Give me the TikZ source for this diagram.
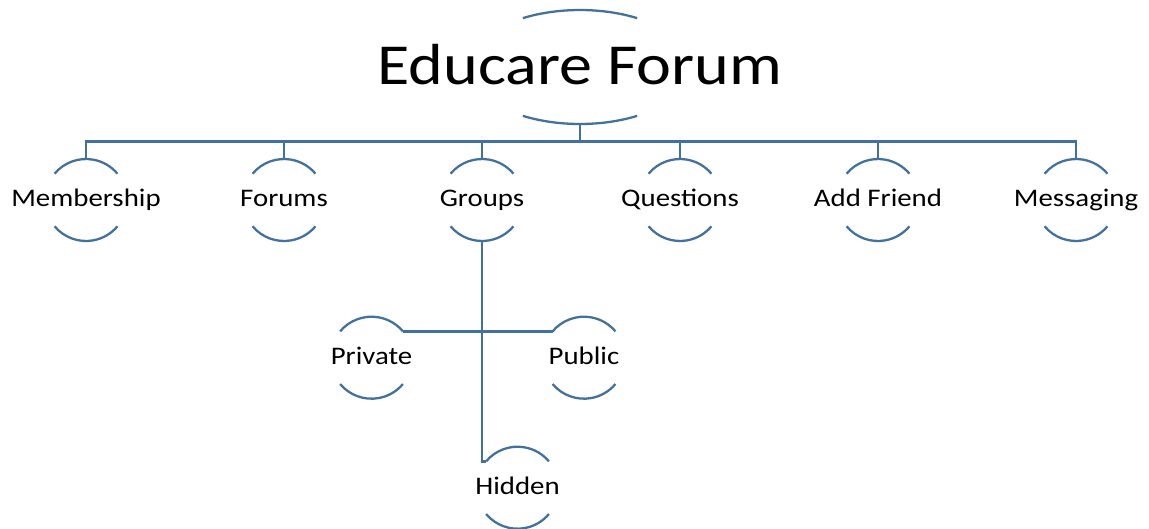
\documentclass[tikz,border=0pt]{standalone}
\usepackage{fontspec}
\setmainfont[FakeStretch=1.14]{Carlito}
\definecolor{linkblue}{RGB}{65,113,156}
\tikzset{
  ring/.style={circle, minimum size=1.64cm, inner sep=0pt, outer sep=0pt},
  tag/.style={anchor=base, inner sep=0pt, font=\fontsize{14.4}{16}\selectfont},
  link/.style={draw=linkblue, line width=1.3pt},
}
\newcommand{\halfarcs}[1]{%
  \draw[link] (#1.140) arc[start angle=140, end angle=40, radius=0.82cm];
  \draw[link] (#1.220) arc[start angle=220, end angle=320, radius=0.82cm];
}

\begin{document}
\begin{tikzpicture}[x=0.02cm, y=-0.02cm]
    \useasboundingbox (0,0) rectangle (1149,528);

    \coordinate (root) at (580,67);
    \node[anchor=base, inner sep=0pt, font=\fontsize{33}{38}\selectfont] (roottext) at (580,84) {Educare Forum};
    \draw[link] (root) ++(121:2.22cm and 1.14cm) arc[start angle=121, end angle=59, x radius=2.22cm, y radius=1.14cm];
    \draw[link] (root) ++(239:2.22cm and 1.14cm) arc[start angle=239, end angle=301, x radius=2.22cm, y radius=1.14cm];
    \coordinate (rootb) at ([yshift=-1.14cm]root);

    \foreach \n/\x/\t in {memb/86/Membership, forums/284/Forums, groups/482/Groups,
                          questions/680/Questions, friend/878/Add Friend, messaging/1076/Messaging} {
      \node[ring] (\n) at (\x,200) {};
      \node[tag] (\n text) at (\x,206.5) {\t};
      \halfarcs{\n}
      \draw[link] (rootb) -- ++(0,17.5) -| (\n.north);
    }

    \node[ring] (private) at (371.5,357.7) {};
    \node[tag] (privatetext) at (371.5,364.2) {Private};
    \halfarcs{private}
    \node[ring] (public) at (584,357.7) {};
    \node[tag] (publictext) at (584,364.2) {Public};
    \halfarcs{public}
    \node[ring] (hidden) at (517.5,487.7) {};
    \node[tag] (hiddentext) at (517.5,494.2) {Hidden};
    \halfarcs{hidden}

    \draw[link] (groups.south) |- (hidden.140);
    \draw[link] (private.40) -- (public.140);
\end{tikzpicture}
\end{document}
